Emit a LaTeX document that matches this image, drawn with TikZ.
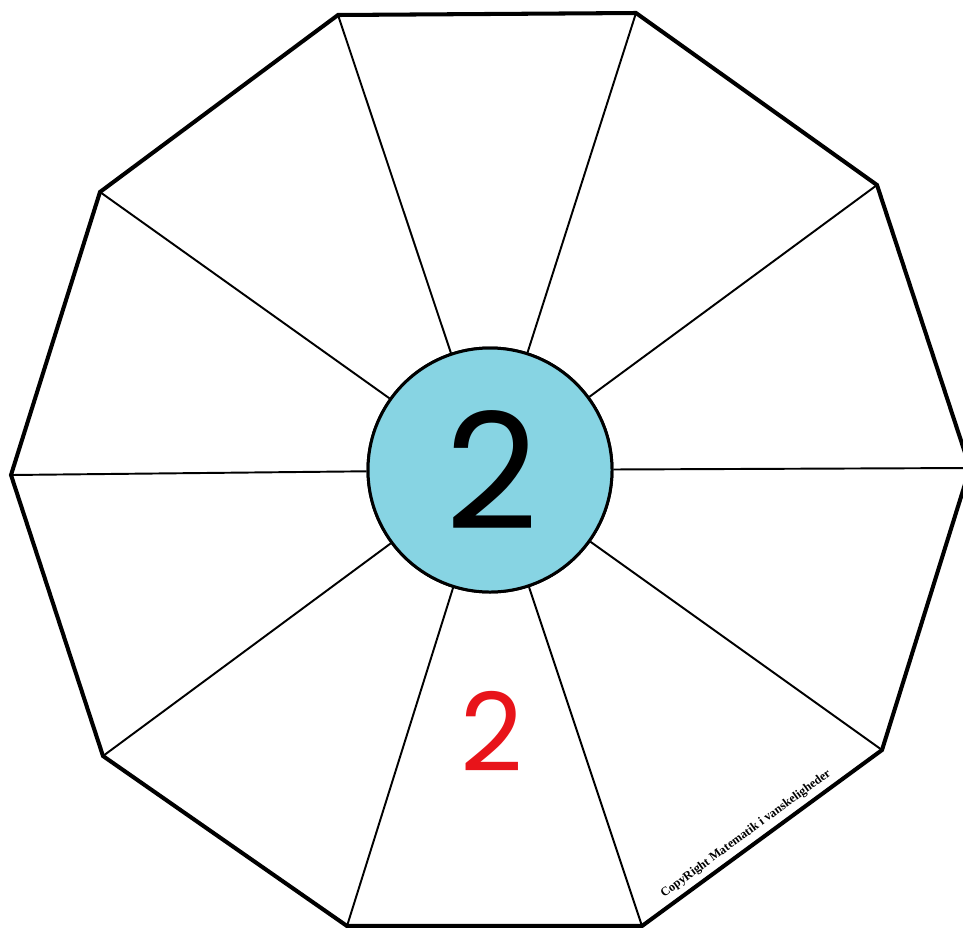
\documentclass[tikz,border=0pt]{standalone}
\usepackage{fontspec}
\newfontfamily\digitfont{Poppins}
\newfontfamily\copyfont{Liberation Serif}
\definecolor{hubblue}{RGB}{135,212,227}
\definecolor{digitred}{RGB}{232,20,26}
\begin{document}
\begin{tikzpicture}[x=0.02cm,y=-0.02cm,
  rim/.style={line width=2.3pt,line join=miter},
  spoke/.style={line width=1.1pt},
  hub/.style={circle,draw,line width=1.7pt,fill=hubblue,minimum size=244*0.02cm,inner sep=0pt}]
\useasboundingbox (0,0) rectangle (963,927);
\coordinate (v0) at (970,468);
\coordinate (v1) at (877,185);
\coordinate (v2) at (636,13);
\coordinate (v3) at (338,15);
\coordinate (v4) at (100,192);
\coordinate (v5) at (11,475);
\coordinate (v6) at (103,756);
\coordinate (v7) at (347,926);
\coordinate (v8) at (642,926);
\coordinate (v9) at (882,750);
\node[hub] (c) at (490,470) {};
\foreach \i in {0,...,9} \draw[spoke] (c) -- (v\i);
\draw[rim] (v0) -- (v1) -- (v2) -- (v3) -- (v4) -- (v5) -- (v6) -- (v7) -- (v8) -- (v9) -- cycle;
\node[hub] (c) at (490,470) {};
\node[font=\digitfont\fontsize{92}{92}\selectfont] (d1) at (492,470) {2};
\node[font=\digitfont\fontsize{62}{62}\selectfont,text=digitred] (d2) at (492,731) {2};
\node[font=\copyfont\bfseries\fontsize{7}{7}\selectfont,rotate=36.25] (cr) at (746,834) {CopyRight Matematik i vanskeligheder};
\end{tikzpicture}
\end{document}
